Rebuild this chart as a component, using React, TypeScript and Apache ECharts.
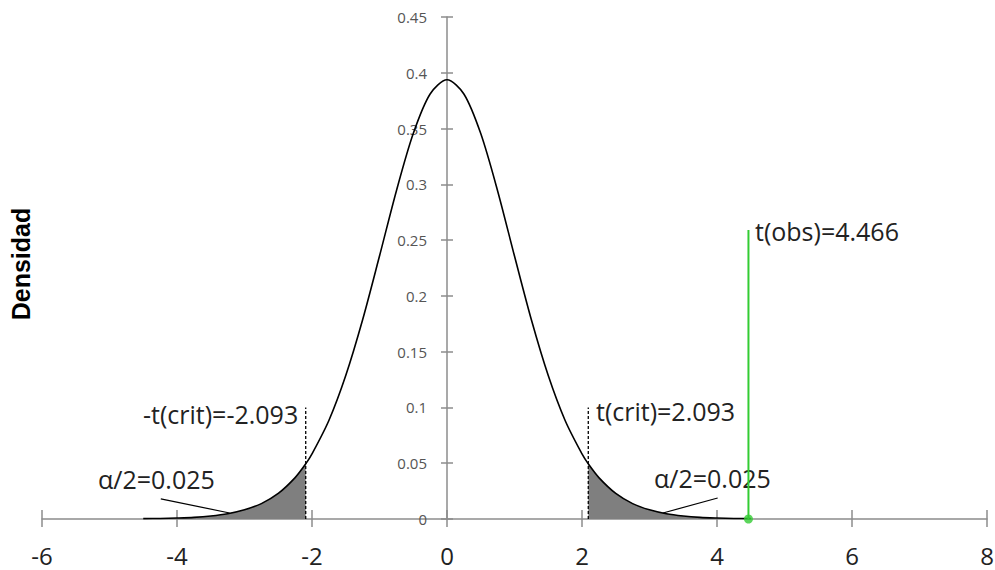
import React, { useEffect, useRef } from "react";
import * as echarts from "echarts";

// t distribution (df = 19) density
const tValues = [
  -4.5, -4.25, -4, -3.75, -3.5, -3.25, -3, -2.75, -2.5, -2.25, -2.093, -2, -1.75, -1.5, -1.25, -1, -0.75, -0.5, -0.25,
  0, 0.25, 0.5, 0.75, 1, 1.25, 1.5, 1.75, 2, 2.093, 2.25, 2.5, 2.75, 3, 3.25, 3.5, 3.75, 4, 4.25, 4.5,
];
const densityValues = [
  0.0003, 0.0005, 0.0009, 0.0015, 0.0027, 0.0047, 0.0082, 0.0138, 0.0229, 0.0371, 0.0494, 0.0583, 0.0883, 0.1286,
  0.1786, 0.2357, 0.2941, 0.3455, 0.381, 0.3937, 0.381, 0.3455, 0.2941, 0.2357, 0.1786, 0.1286, 0.0883, 0.0583,
  0.0494, 0.0371, 0.0229, 0.0138, 0.0082, 0.0047, 0.0027, 0.0015, 0.0009, 0.0005, 0.0003,
];
const tCrit = 2.093;
const tObs = 4.466;
const critLineTop = 0.1;
const obsLineTop = 0.259;
const leftLeader = [
  [-4.24, 0.018],
  [-3.22, 0.0054],
];
const rightLeader = [
  [4.01, 0.0188],
  [3.2, 0.0054],
];
const xTicks = { min: -6, max: 8, interval: 2 };
const yTicks = { min: 0, max: 0.45, interval: 0.05 };

const labelCritLeft = "-t(crit)=-2.093";
const labelCritRight = "t(crit)=2.093";
const labelAlpha = "α/2=0.025";
const labelObs = "t(obs)=4.466";
const yTitle = "Densidad";

export default function App() {
  const ref = useRef<HTMLDivElement>(null);
  useEffect(() => {
    if (!ref.current) return;
    const chart = echarts.init(ref.current, null, { renderer: "svg" });
    const curve = tValues.map((t, i) => [t, densityValues[i]]);
    const leftTail = curve.filter((p) => p[0] <= -tCrit + 1e-9);
    const rightTail = curve.filter((p) => p[0] >= tCrit - 1e-9);
    const axisColor = "#8c8c8c";
    const font = "'Open Sans', sans-serif";
    const textColor = "#222";
    const gridLeft = 42;
    const gridRight = 8;
    const plotWidth = 995 - gridLeft - gridRight;
    const zeroOffset = (plotWidth * (0 - xTicks.min)) / (xTicks.max - xTicks.min);
    const baseX = {
      type: "value",
      min: xTicks.min,
      max: xTicks.max,
      interval: xTicks.interval,
      splitLine: { show: false },
      axisLine: { show: true, onZero: false, lineStyle: { color: axisColor, width: 1.5 } },
    };
    const baseY = {
      type: "value",
      min: yTicks.min,
      max: yTicks.max,
      interval: yTicks.interval,
      splitLine: { show: false },
      axisLine: { show: true, onZero: false, lineStyle: { color: axisColor, width: 1.5 } },
    };
    chart.setOption({
      animation: false,
      grid: { left: gridLeft, right: gridRight, top: 17, bottom: 51, containLabel: false, outerBoundsMode: "none" },
      xAxis: [
        {
          ...baseX,
          position: "bottom",
          axisTick: { show: true, inside: false, length: 8, lineStyle: { color: axisColor, width: 1.5 } },
          axisLabel: { show: true, margin: 24, fontSize: 24, fontFamily: font, color: "#222" },
        },
        {
          ...baseX,
          position: "top",
          offset: -(570 - 17 - 51),
          axisLine: { show: false },
          axisTick: { show: true, inside: false, length: 9, lineStyle: { color: axisColor, width: 1.5 } },
          axisLabel: { show: false },
        },
      ],
      yAxis: [
        {
          ...baseY,
          position: "left",
          offset: -zeroOffset,
          axisTick: { show: true, inside: false, length: 6, lineStyle: { color: axisColor, width: 1.5 } },
          axisLabel: { show: true, margin: 20, fontSize: 15, fontFamily: font, color: "#555" },
        },
        {
          ...baseY,
          position: "left",
          offset: -zeroOffset,
          axisLine: { show: false },
          axisTick: { show: true, inside: true, length: 6, lineStyle: { color: axisColor, width: 1.5 } },
          axisLabel: { show: false },
        },
      ],
      series: [
        {
          type: "line",
          data: leftTail,
          symbol: "none",
          smooth: 0.3,
          lineStyle: { width: 0 },
          areaStyle: { color: "#7f7f7f", opacity: 1 },
          z: 2,
        },
        {
          type: "line",
          data: rightTail,
          symbol: "none",
          smooth: 0.3,
          lineStyle: { width: 0 },
          areaStyle: { color: "#7f7f7f", opacity: 1 },
          z: 2,
        },
        {
          type: "line",
          data: curve,
          symbol: "none",
          smooth: 0.3,
          lineStyle: { color: "#000", width: 1.6 },
          z: 3,
        },
        {
          type: "line",
          data: [
            [-tCrit, 0],
            [-tCrit, critLineTop],
          ],
          symbol: "none",
          lineStyle: { color: "#000", width: 1.3, type: [3, 2] },
          z: 4,
        },
        {
          type: "line",
          data: [
            [tCrit, 0],
            [tCrit, critLineTop],
          ],
          symbol: "none",
          lineStyle: { color: "#000", width: 1.3, type: [3, 2] },
          z: 4,
        },
        {
          type: "line",
          data: leftLeader,
          symbol: "none",
          lineStyle: { color: "#000", width: 1.2 },
          z: 4,
        },
        {
          type: "line",
          data: rightLeader,
          symbol: "none",
          lineStyle: { color: "#000", width: 1.2 },
          z: 4,
        },
        {
          type: "line",
          data: [
            [tObs, 0],
            [tObs, obsLineTop],
          ],
          symbol: "none",
          lineStyle: { color: "#33cc33", width: 2 },
          z: 5,
        },
        {
          type: "scatter",
          data: [[tObs, 0]],
          symbolSize: 9,
          itemStyle: { color: "#33cc33" },
          z: 6,
        },
      ],
      graphic: [
        {
          type: "text",
          x: 21,
          y: 264,
          rotation: Math.PI / 2,
          style: {
            text: yTitle,
            fontFamily: "'Liberation Sans', Arial, sans-serif",
            fontWeight: "bold",
            fontSize: 25,
            fill: "#000",
            align: "center",
            verticalAlign: "middle",
          },
        },
        {
          type: "text",
          x: 143,
          y: 414,
          style: { text: labelCritLeft, fontFamily: font, fontSize: 25, fill: textColor, align: "left", verticalAlign: "middle" },
        },
        {
          type: "text",
          x: 596,
          y: 411,
          style: { text: labelCritRight, fontFamily: font, fontSize: 25, fill: textColor, align: "left", verticalAlign: "middle" },
        },
        {
          type: "text",
          x: 98,
          y: 479,
          style: { text: labelAlpha, fontFamily: font, fontSize: 25, fill: textColor, align: "left", verticalAlign: "middle" },
        },
        {
          type: "text",
          x: 654,
          y: 478,
          style: { text: labelAlpha, fontFamily: font, fontSize: 25, fill: textColor, align: "left", verticalAlign: "middle" },
        },
        {
          type: "text",
          x: 755,
          y: 231,
          style: { text: labelObs, fontFamily: font, fontSize: 25, fill: textColor, align: "left", verticalAlign: "middle" },
        },
      ],
    });
    return () => chart.dispose();
  }, []);
  return (
    <div
      ref={ref}
      style={{ position: "fixed", left: 0, top: 0, width: 995, height: 570, background: "#fff" }}
    />
  );
}
